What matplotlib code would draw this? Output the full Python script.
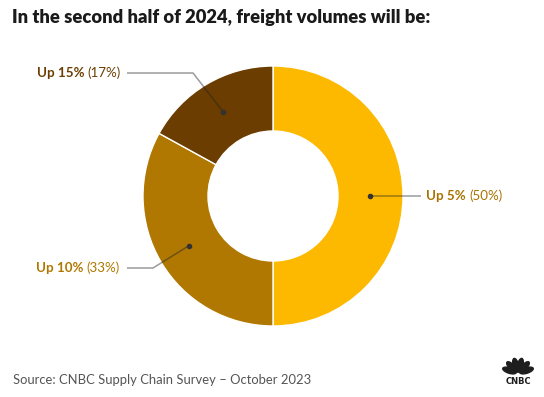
import matplotlib
matplotlib.use("Agg")
import matplotlib.pyplot as plt
import numpy as np
from matplotlib.patches import Ellipse

categories = ["Up 5%", "Up 10%", "Up 15%"]
shares = [50, 33, 17]
colors = ["#FDB900", "#B07800", "#6B3D00"]
label_colors = ["#A87300", "#B07800", "#6B3D00"]

W, H = 544, 397
fig = plt.figure(figsize=(W / 100, H / 100), dpi=100)
fig.patch.set_facecolor("white")
plt.rcParams["font.family"] = ["Lato", "DejaVu Sans"]

cx, cy, R = 273, 196, 130
ax = fig.add_axes([(cx - R) / W, (H - cy - R) / H, 2 * R / W, 2 * R / H])

wedges, _ = ax.pie(shares, colors=colors, startangle=90, counterclock=False,
                   radius=1, wedgeprops=dict(width=0.5, edgecolor="white", linewidth=1))
ax.set_xlim(-1, 1)
ax.set_ylim(-1, 1)
ax.axis("off")

label_specs = {
    "Up 5%": dict(text_x=426, text_y=196, side="left", elbow=None, line_end=421),
    "Up 10%": dict(text_x=120, text_y=268, side="right", elbow=153, line_end=127),
    "Up 15%": dict(text_x=121, text_y=73, side="right", elbow=193, line_end=127),
}

fig.canvas.draw()
renderer = fig.canvas.get_renderer()

for w, cat, share, lc in zip(wedges, categories, shares, label_colors):
    ang = np.deg2rad((w.theta1 + w.theta2) / 2)
    dx, dy = 0.75 * np.cos(ang), 0.75 * np.sin(ang)
    spec = label_specs[cat]
    ty = spec["text_y"]
    ey = (cy - ty) / R
    pts_x = [dx]
    pts_y = [dy]
    if spec["elbow"] is not None:
        pts_x.append((spec["elbow"] - cx) / R)
        pts_y.append(ey)
    pts_x.append((spec["line_end"] - cx) / R)
    pts_y.append(ey)
    ax.plot(pts_x, pts_y, color="#222222", alpha=0.45, lw=1.1, clip_on=False, solid_capstyle="butt")
    ax.plot([dx], [dy], "o", color="#333333", ms=3, clip_on=False)

    fy = (H - ty) / H
    if spec["side"] == "left":
        t1 = fig.text(spec["text_x"] / W, fy, cat, fontsize=9.6, fontweight="bold",
                      color=lc, ha="left", va="center")
        bb = t1.get_window_extent(renderer)
        fig.text((bb.x1 + 3.5) / W, fy, f"({share}%)", fontsize=9.6, color=lc,
                 ha="left", va="center")
    else:
        t2 = fig.text(spec["text_x"] / W, fy, f"({share}%)", fontsize=9.6, color=lc,
                      ha="right", va="center")
        bb = t2.get_window_extent(renderer)
        fig.text((bb.x0 - 3.5) / W, fy, cat, fontsize=9.6, fontweight="bold",
                 color=lc, ha="right", va="center")

fig.text(12 / W, (H - 18) / H, "In the second half of 2024, freight volumes will be:",
         fontsize=13.2, fontweight="heavy", color="#1a1a1a", ha="left", va="center")
fig.text(13 / W, (H - 380) / H, "Source: CNBC Supply Chain Survey \u2013 October 2023",
         fontsize=9.4, color="#555555", ha="left", va="center")

# CNBC peacock logo (approximation)
lx, ly = 518, 373
lax = fig.add_axes([0, 0, 1, 1], facecolor="none")
lax.set_xlim(0, W)
lax.set_ylim(H, 0)
lax.axis("off")
for a in [-72, -43, -14, 14, 43, 72]:
    r = np.deg2rad(a)
    ex = lx + 9 * np.sin(r)
    ey = ly - 8 * np.cos(r)
    lax.add_patch(Ellipse((ex, ey), 5.5, 14, angle=a, color="#1e1e1e"))
lax.text(lx, 381, "CNBC", fontsize=6, fontweight="heavy", color="#1e1e1e",
         ha="center", va="center", family="DejaVu Sans")

fig.savefig("out.png", dpi=100, facecolor="white")
